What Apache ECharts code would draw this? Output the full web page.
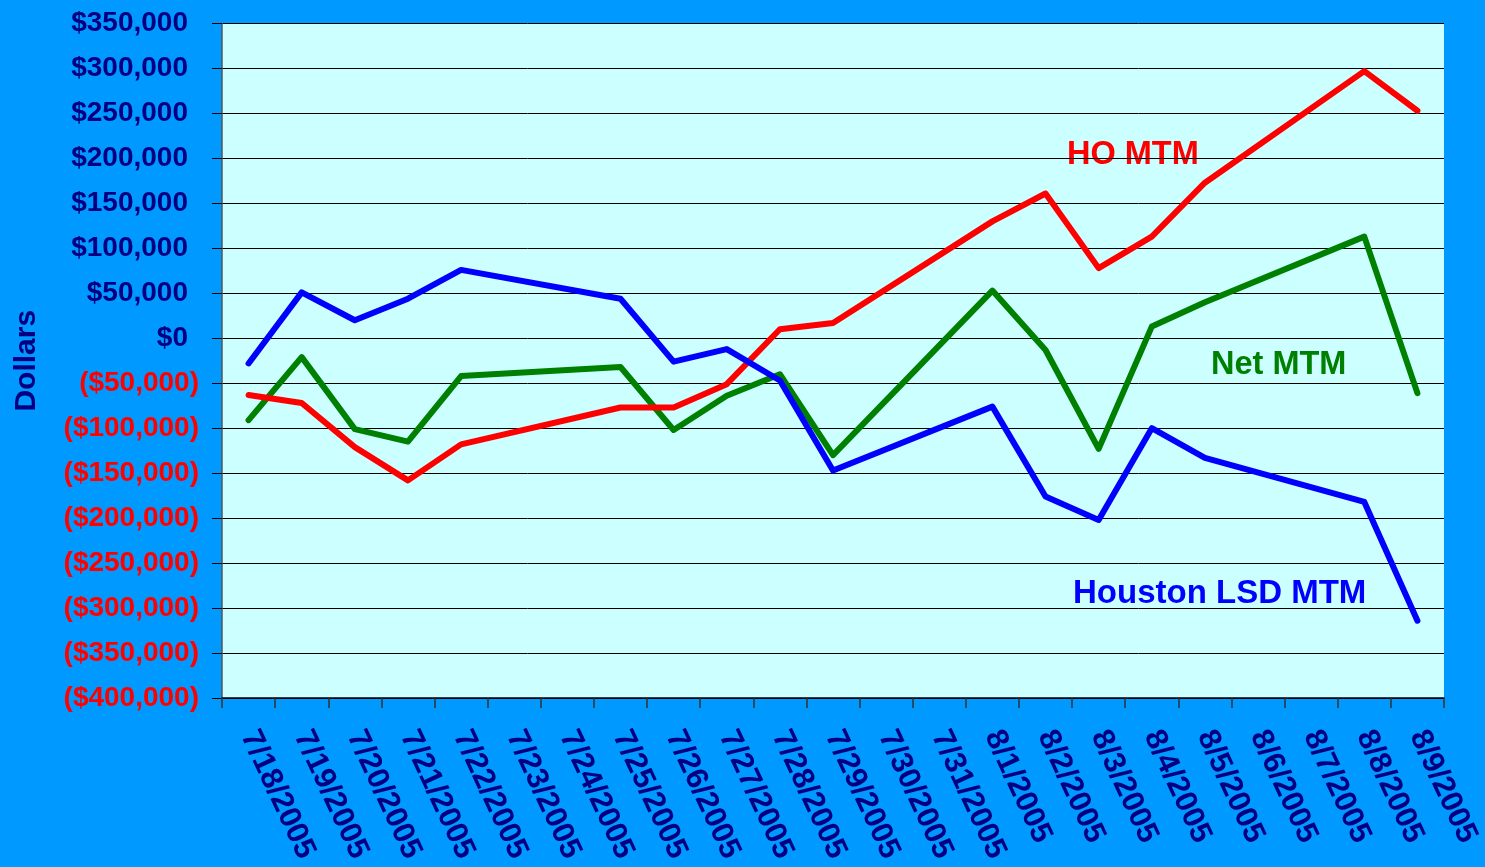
<!DOCTYPE html>
<html>
<head>
<meta charset="utf-8">
<script src="https://cdn.jsdelivr.net/npm/echarts@6/dist/echarts.min.js"></script>
<style>
html,body{margin:0;padding:0;background:#0099FF;}
#chart{width:1485px;height:867px;}
</style>
</head>
<body>
<div id="chart"></div>
<script>
var categories = ['7/18/2005','7/19/2005','7/20/2005','7/21/2005','7/22/2005','7/23/2005','7/24/2005','7/25/2005','7/26/2005','7/27/2005','7/28/2005','7/29/2005','7/30/2005','7/31/2005','8/1/2005','8/2/2005','8/3/2005','8/4/2005','8/5/2005','8/6/2005','8/7/2005','8/8/2005','8/9/2005'];
var hoMTM = [-63000,-72000,-121000,-158000,-118000,null,null,-77000,-77000,-51000,10000,17000,null,null,130000,161000,78000,113000,173000,null,null,297000,253000];
var netMTM = [-91000,-21000,-101000,-115000,-42000,null,null,-32000,-102000,-64000,-40000,-130000,null,null,53000,-13000,-123000,13000,40000,null,null,113000,-61000];
var houstonMTM = [-28000,51000,20000,44000,76000,null,null,44000,-26000,-12000,-47000,-147000,null,null,-76000,-176000,-202000,-100000,-133000,null,null,-182000,-314000];
var seriesNames = ['HO MTM','Net MTM','Houston LSD MTM'];
var yMin = -400000, yMax = 350000, yStep = 50000;

function fmt(v){
  var a = Math.abs(v).toString().replace(/\B(?=(\d{3})+(?!\d))/g, ',');
  return v < 0 ? '{n|($' + a + ')}' : '{p|$' + a + '}';
}

var chart = echarts.init(document.getElementById('chart'));
var FONT = '"Liberation Sans", Arial, sans-serif';
var lineBase = {type:'line', connectNulls:true, showSymbol:false, symbol:'none', animation:false};
chart.setOption({
  backgroundColor:'#0099FF',
  animation:false,
  grid:{left:222, top:23.5, right:41, bottom:169, show:true, backgroundColor:'#CCFFFF', borderWidth:0},
  xAxis:{
    type:'category', data:categories, boundaryGap:true,
    axisLine:{show:true, onZero:false, lineStyle:{color:'#000000', width:1.5}},
    axisTick:{show:true, alignWithLabel:false, length:10, lineStyle:{color:'#333333', width:1.5}},
    axisLabel:{interval:0, rotate:-65, margin:34, color:'#000080', fontFamily:FONT, fontWeight:'bold', fontSize:31}
  },
  yAxis:{
    type:'value', min:yMin, max:yMax, interval:yStep,
    name:'Dollars', nameLocation:'middle', nameGap:180, nameRotate:90,
    nameTextStyle:{color:'#000080', fontFamily:FONT, fontWeight:'bold', fontSize:30},
    axisLine:{show:true, lineStyle:{color:'#555555', width:1.5}},
    axisTick:{show:true, length:10, lineStyle:{color:'#000000', width:1}},
    splitLine:{show:true, lineStyle:{color:'#000000', width:1}},
    axisLabel:{margin:23, formatter:fmt, fontFamily:FONT, fontWeight:'bold', fontSize:28,
      rich:{
        p:{color:'#000080', fontFamily:FONT, fontWeight:'bold', fontSize:28, padding:[0,11,0,0]},
        n:{color:'#FF0000', fontFamily:FONT, fontWeight:'bold', fontSize:28}
      }}
  },
  series:[
    Object.assign({}, lineBase, {name:seriesNames[0], data:hoMTM, z:3, lineStyle:{color:'#FF0000', width:6, cap:'round', join:'round'}}),
    Object.assign({}, lineBase, {name:seriesNames[1], data:netMTM, z:2, lineStyle:{color:'#008000', width:6, cap:'round', join:'round'}}),
    Object.assign({}, lineBase, {name:seriesNames[2], data:houstonMTM, z:4, lineStyle:{color:'#0000FF', width:6, cap:'round', join:'round'}})
  ],
  graphic:[
    {type:'text', left:1067, top:139, style:{text:seriesNames[0], fill:'#FF0000', font:'bold 32.5px ' + FONT}},
    {type:'text', left:1211, top:349, style:{text:seriesNames[1], fill:'#008000', font:'bold 32.5px ' + FONT}},
    {type:'text', left:1073, top:577, style:{text:seriesNames[2], fill:'#0000FF', font:'bold 33px ' + FONT}}
  ]
});
</script>
</body>
</html>
